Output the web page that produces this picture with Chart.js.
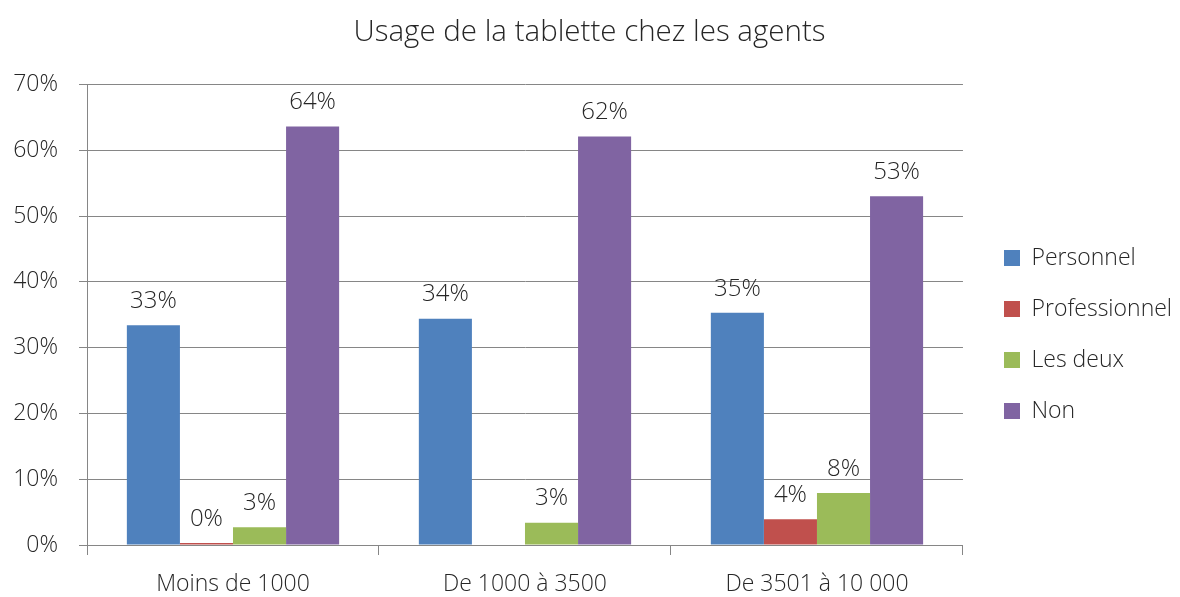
<!DOCTYPE html>
<html><head><meta charset="utf-8">
<script src="https://cdn.jsdelivr.net/npm/chart.js@4"></script>
<style>html,body{margin:0;padding:0;background:#fff}#w{width:1180px;height:597px;position:relative}</style>
</head><body><div id="w"><canvas id="c"></canvas></div>
<script>
const categories = ["Moins de 1000", "De 1000 à 3500", "De 3501 à 10 000"];
const personnel = [33.4, 34.4, 35.3];
const professionnel = [0.3, null, 3.9];
const lesDeux = [2.7, 3.4, 7.9];
const non = [63.6, 62.1, 53.0];
const seriesNames = ["Personnel", "Professionnel", "Les deux", "Non"];
const seriesColors = ["#4F81BD", "#C0504D", "#9BBB59", "#8064A2"];
const yTicks = [0, 10, 20, 30, 40, 50, 60, 70];
const titleText = "Usage de la tablette chez les agents";

const FONT = "'Open Sans', 'Segoe UI', sans-serif";
const TXT = "#262626";
const W = 300;

const labelPlugin = {
  id: 'barLabels',
  afterDatasetsDraw(chart) {
    const ctx = chart.ctx;
    ctx.save();
    ctx.font = W + " 24px " + FONT;
    ctx.fillStyle = TXT;
    ctx.textAlign = 'center';
    ctx.textBaseline = 'bottom';
    chart.data.datasets.forEach((ds, i) => {
      const meta = chart.getDatasetMeta(i);
      meta.data.forEach((bar, j) => {
        const v = ds.data[j];
        if (v === null || v === undefined) return;
        ctx.fillText(Math.round(v) + '%', bar.x, bar.y - 12);
      });
    });
    ctx.restore();
  }
};

// place legend box: first swatch left at 1004, first row centre at y 258
const legendPlace = {
  id: 'legendPlace',
  beforeDraw(chart) {
    const lg = chart.legend;
    if (!lg || !lg.legendHitBoxes || !lg.legendHitBoxes.length) return;
    const hb = lg.legendHitBoxes[0];
    const dx = 1004 - hb.left;
    const dy = 258 - (hb.top + hb.height / 2);
    lg.left += dx; lg.right += dx; lg.top += dy; lg.bottom += dy;
    lg.legendHitBoxes.forEach(b => { b.left += dx; b.top += dy; });
  }
};

const dataSets = [personnel, professionnel, lesDeux, non].map((d, i) => ({
  label: seriesNames[i],
  data: d,
  backgroundColor: seriesColors[i],
  borderWidth: 0,
  categoryPercentage: 0.727,
  barPercentage: 1.0
}));

new Chart(document.getElementById('c'), {
  type: 'bar',
  data: { labels: categories, datasets: dataSets },
  options: {
    responsive: true,
    maintainAspectRatio: false,
    animation: false,
    layout: { padding: { left: 10, right: 11, top: 0, bottom: 0 } },
    plugins: {
      title: {
        display: true, text: titleText,
        font: { family: FONT, size: 29.5, weight: W },
        color: TXT,
        padding: { top: 15, bottom: 34 }
      },
      legend: {
        position: 'right',
        align: 'center',
        labels: {
          font: { family: FONT, size: 23, weight: W },
          color: TXT,
          boxWidth: 16, boxHeight: 16,
          padding: 28
        }
      },
      tooltip: { enabled: false }
    },
    scales: {
      x: {
        afterFit: (axis) => { axis.height = 52; },
        grid: { display: true, drawOnChartArea: false, color: '#868686', tickLength: 10, offset: true },
        border: { color: '#868686', width: 1 },
        ticks: { font: { family: FONT, size: 23, weight: W }, color: TXT, padding: 16 }
      },
      y: {
        min: 0, max: 70,
        afterBuildTicks: (axis) => { axis.ticks = yTicks.map(v => ({ value: v })); },
        afterFit: (axis) => { axis.width = 77; },
        grid: { color: '#868686', tickLength: 8 },
        border: { color: '#868686', width: 1 },
        ticks: { font: { family: FONT, size: 23, weight: W }, color: TXT, padding: 21, callback: v => v + '%' }
      }
    }
  },
  plugins: [labelPlugin, legendPlace]
});
</script></body></html>
